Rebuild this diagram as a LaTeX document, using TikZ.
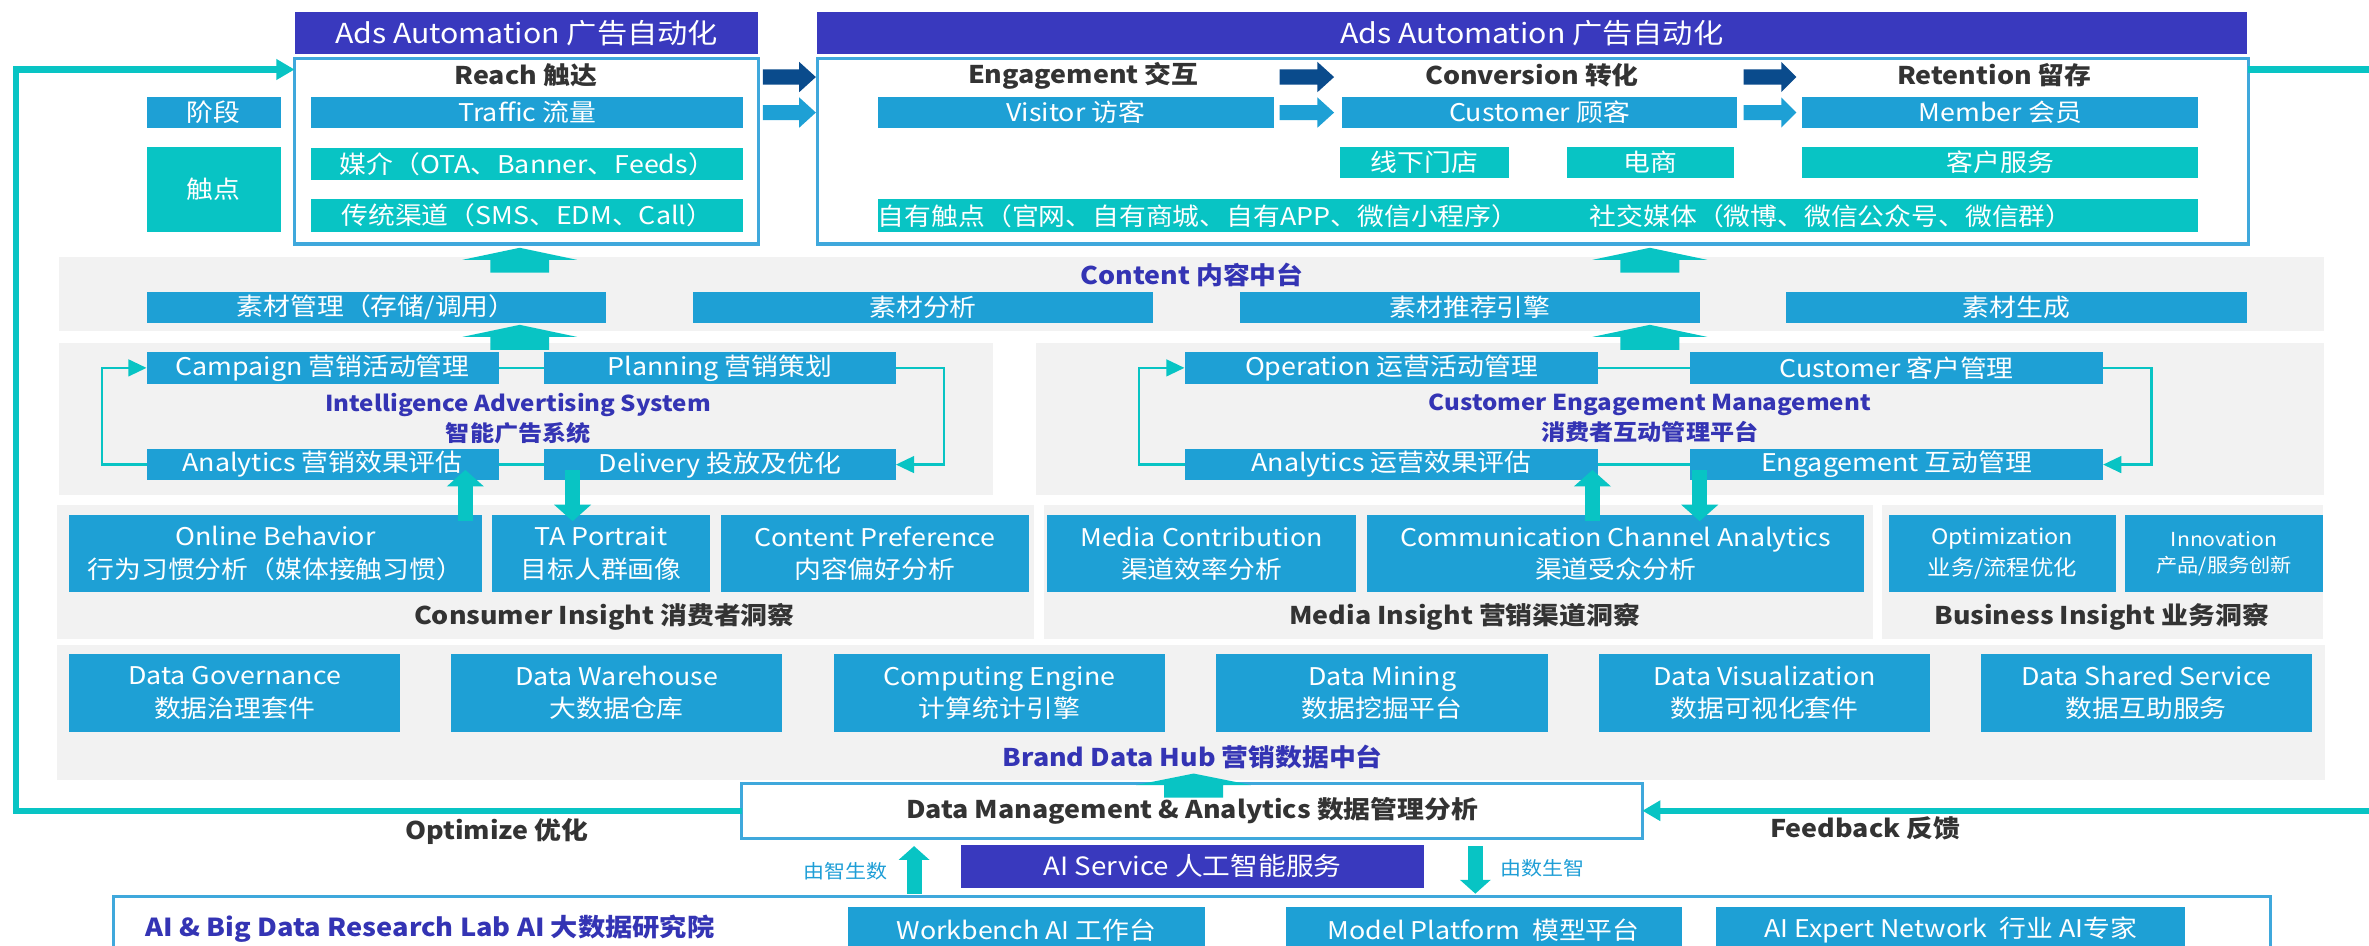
\documentclass[tikz,border=0pt]{standalone}
\usepackage{fontspec}
\setmainfont{Noto Sans CJK SC}[FakeStretch=1.1]
\usetikzlibrary{arrows.meta}
\definecolor{cblue}{HTML}{1EA0D5}
\definecolor{cteal}{HTML}{08C4C4}
\definecolor{cindigo}{HTML}{3939BE}
\definecolor{cdark}{HTML}{0A4B8C}
\definecolor{cgray}{HTML}{F2F2F2}
\definecolor{cborder}{HTML}{3FA8DC}
\definecolor{ctext}{HTML}{333333}
\definecolor{cititle}{HTML}{3434B4}
\definecolor{clabel}{HTML}{1E9ED6}
\newcommand\myfstd{\fontsize{8.07}{10.8}\selectfont}
\newcommand\myfads{\fontsize{9.1}{10}\selectfont}
\newcommand\myftitle{\fontsize{8.07}{9}\selectfont\bfseries}
\newcommand\myfias{\fontsize{7.25}{10}\selectfont\bfseries}
\newcommand\myflab{\fontsize{8.2}{9}\selectfont\bfseries}
\newcommand\myfsmall{\fontsize{6.32}{7}\selectfont}
\newcommand\myfinno{\fontsize{6.38}{8.5}\selectfont}
\newcommand\myfopt{\fontsize{7.03}{10}\selectfont}
\newcommand\myfai{\fontsize{8.34}{9}\selectfont}
\newcommand\bxn[7]{%
  \pgfmathsetmacro\bxw{(#4-#2)*0.5}%
  \pgfmathsetmacro\bxh{(#5-#3)*0.5}%
  \node[#6, minimum width=\bxw pt, minimum height=\bxh pt] (#1) at ({(#2+#4)/2},{(#3+#5)/2}) {#7};}
\newcommand\fatup[4]{% cx tip base bottom
  \fill[cteal] ({#1-19.5},#4) -- ({#1-19.5},#3) -- ({#1-38},#3) -- (#1,#2) -- ({#1+38},#3) -- ({#1+19.5},#3) -- ({#1+19.5},#4) -- cycle;}
\newcommand\chev[5]{% color x0 xh x1 cy
  \fill[#1] (#2,{#5-5}) -- (#3,{#5-5}) -- (#3,{#5-10}) -- (#4,#5) -- (#3,{#5+10}) -- (#3,{#5+5}) -- (#2,{#5+5}) -- cycle;}
\tikzset{
  base/.style={inner sep=0pt, outer sep=0pt, align=center},
  bb/.style={base, fill=cblue, text=white, font=\myfstd},
  tb/.style={base, fill=cteal, text=white, font=\myfstd},
  ib/.style={base, fill=cindigo, text=white},
  gb/.style={base, fill=cgray},
  wb/.style={base, fill=white, draw=cborder, line width=1pt},
  ttl/.style={inner sep=0pt, text=ctext, font=\myftitle},
  itl/.style={inner sep=0pt, text=cititle, font=\myftitle, align=center},
  txt/.style={inner sep=0pt, text=white, font=\myfstd},
  loopl/.style={draw=cteal, line width=0.8pt},
  loopa/.style={loopl, -{Triangle[length=6pt,width=5.5pt]}},
  tarr/.style={draw=cteal, line width=5pt, -{Triangle[length=5.5pt,width=12pt]}},
  sarr/.style={draw=cteal, line width=5pt, -{Triangle[length=4.6pt,width=10pt]}},
  fbl/.style={draw=cteal, line width=2pt},
  fba/.style={fbl, -{Triangle[length=6pt,width=6.5pt]}},
}
\begin{document}
\begin{tikzpicture}[x=0.5pt,y=-0.5pt]
\useasboundingbox (0,0) rectangle (1568,626);
% top headers
\bxn{adsL}{195}{8}{502}{36}{ib,font=\myfads}{Ads Automation 广告自动化}
\bxn{adsR}{541}{8}{1487}{36}{ib,font=\myfads}{Ads Automation 广告自动化}
% stage frames
\bxn{reach}{195}{39}{502}{161.5}{wb}{}
\bxn{main}{541}{39}{1488}{161.5}{wb}{}
\node[ttl] (tReach) at (348,50) {Reach 触达};
\node[ttl] (tEng) at (717,50) {Engagement 交互};
\node[ttl] (tConv) at (1014,50) {Conversion 转化};
\node[ttl] (tRet) at (1320,50) {Retention 留存};
\bxn{stage}{97}{64}{186}{85}{bb}{阶段}
\bxn{touch}{97}{97}{186}{153.5}{tb}{触点}
\bxn{traffic}{206}{64}{492}{85}{bb}{Traffic 流量}
\bxn{media}{206}{98}{492}{119}{tb}{媒介（OTA、Banner、Feeds）}
\bxn{trad}{206}{132}{492}{153.5}{tb}{传统渠道（SMS、EDM、Call）}
\bxn{visitor}{581}{64}{843}{85}{bb}{Visitor 访客}
\bxn{customer}{888}{64}{1150}{85}{bb}{Customer 顾客}
\bxn{member}{1193}{64}{1455}{85}{bb}{Member 会员}
\bxn{store}{887}{97}{998.5}{118}{tb}{线下门店}
\bxn{ecom}{1037}{97}{1148}{118}{tb}{电商}
\bxn{service}{1193}{97}{1455}{118}{tb}{客户服务}
\bxn{own}{581}{132}{1455}{153.5}{tb}{}
\node[txt] (ownA) at (793,143) {自有触点（官网、自有商城、自有APP、微信小程序）};
\node[txt] (ownB) at (1212,143) {社交媒体（微博、微信公众号、微信群）};
% chevrons
\chev{cdark}{505}{529}{540}{51}
\chev{cblue}{505}{529}{540}{74.5}
\chev{cdark}{847}{872}{883}{51}
\chev{cblue}{847}{872}{883}{74.5}
\chev{cdark}{1154}{1179}{1189}{51}
\chev{cblue}{1154}{1179}{1189}{74.5}
% content layer
\bxn{content}{39}{170}{1538}{219}{gb}{}
\node[itl] (tContent) at (789,182) {Content 内容中台};
\bxn{cm1}{97}{193}{401}{214}{bb}{素材管理（存储/调用）}
\bxn{cm2}{459}{193}{763}{214}{bb}{素材分析}
\bxn{cm3}{821}{193}{1125}{214}{bb}{素材推荐引擎}
\bxn{cm4}{1182}{193}{1487}{214}{bb}{素材生成}
% IAS
\bxn{ias}{39}{227}{657}{327.6}{gb}{}
\bxn{camp}{97}{233}{330}{254}{bb}{Campaign 营销活动管理}
\bxn{plan}{360}{233}{593}{254}{bb}{Planning 营销策划}
\bxn{anaA}{97}{297}{330}{318}{bb}{Analytics 营销效果评估}
\bxn{deliv}{360}{297}{593}{318}{bb}{Delivery 投放及优化}
\node[itl, font=\myfias] (tIAS) at (343,277) {Intelligence Advertising System\\智能广告系统};
% CEM
\bxn{cem}{686}{227}{1538}{327.6}{gb}{}
\bxn{oper}{784}{233}{1058}{254}{bb}{Operation 运营活动管理}
\bxn{cust}{1118.6}{233}{1392}{254}{bb}{Customer 客户管理}
\bxn{anaC}{784}{297}{1058}{318}{bb}{Analytics 运营效果评估}
\bxn{engm}{1118.6}{297}{1392}{318}{bb}{Engagement 互动管理}
\node[itl, font=\myfias] (tCEM) at (1092,277) {Customer Engagement Management\\消费者互动管理平台};
% loops
\draw[loopl] (camp.east) -- (plan.west);
\draw[loopa] (plan.east) -- ++(32,0) |- (deliv.east);
\draw[loopl] (anaA.east) -- (deliv.west);
\draw[loopa] (anaA.west) -- ++(-29.5,0) |- (camp.west);
\draw[loopl] (oper.east) -- (cust.west);
\draw[loopa] (cust.east) -- ++(32,0) |- (engm.east);
\draw[loopl] (anaC.east) -- (engm.west);
\draw[loopa] (anaC.west) -- ++(-30,0) |- (oper.west);
% fat arrows
\fatup{344}{164}{172}{180.5}
\fatup{344}{215}{223}{231.5}
\fatup{1092}{164}{172}{180.5}
\fatup{1092}{215}{223}{231.5}
% insight layer
\bxn{pCon}{38}{334}{684.6}{423}{gb}{}
\bxn{pMed}{691}{334}{1239.5}{423}{gb}{}
\bxn{pBus}{1245.7}{334}{1537.7}{423}{gb}{}
\bxn{ob}{45.6}{341}{319}{392}{bb}{Online Behavior\\行为习惯分析（媒体接触习惯）}
\bxn{ta}{325.6}{341}{470}{392}{bb}{TA Portrait\\目标人群画像}
\bxn{cp}{477}{341}{681}{392}{bb}{Content Preference\\内容偏好分析}
\bxn{mc}{693}{341}{897.5}{392}{bb}{Media Contribution\\渠道效率分析}
\bxn{cca}{904.7}{341}{1234}{392}{bb}{Communication Channel Analytics\\渠道受众分析}
\bxn{opt}{1250}{341}{1400.6}{392}{bb,font=\myfopt}{Optimization\\业务/流程优化}
\bxn{inno}{1406.6}{341}{1537.7}{392}{bb,font=\myfinno}{Innovation\\产品/服务创新}
\node[ttl] (tCon) at (400,408) {Consumer Insight 消费者洞察};
\node[ttl] (tMed) at (969.5,408) {Media Insight 营销渠道洞察};
\node[ttl] (tBus) at (1391,408) {Business Insight 业务洞察};
% thick arrows insight <-> systems
\coordinate (ua1) at (308,345); \coordinate (ua2) at (308,311);
\coordinate (da1) at (379,311); \coordinate (da2) at (379,345);
\coordinate (ub1) at (1054,345); \coordinate (ub2) at (1054,311);
\coordinate (db1) at (1125,311); \coordinate (db2) at (1125,345);
\draw[tarr] (ua1) -- (ua2);
\draw[tarr] (da1) -- (da2);
\draw[tarr] (ub1) -- (ub2);
\draw[tarr] (db1) -- (db2);
% data hub
\bxn{hub}{38}{427}{1539}{516}{gb}{}
\bxn{dg}{45.6}{433}{265}{484.3}{bb}{Data Governance\\数据治理套件}
\bxn{dw}{298.7}{433}{517.6}{484.3}{bb}{Data Warehouse\\大数据仓库}
\bxn{ce}{552}{433}{771}{484.3}{bb}{Computing Engine\\计算统计引擎}
\bxn{dmn}{805}{433}{1024.6}{484.3}{bb}{Data Mining\\数据挖掘平台}
\bxn{dv}{1058.5}{433}{1277.5}{484.3}{bb}{Data Visualization\\数据可视化套件}
\bxn{ds}{1311}{433}{1530}{484.3}{bb}{Data Shared Service\\数据互助服务}
\node[itl] (tHub) at (789.5,501) {Brand Data Hub 营销数据中台};
% data management
\bxn{dm}{491}{518.5}{1087}{555}{wb,text=ctext,font=\myftitle}{Data Management \& Analytics 数据管理分析}
\fatup{790}{512}{519.6}{528}
% feedback loop
\coordinate (fbL) at (10.5,46);
\coordinate (fbRt) at (1568,46);
\coordinate (fbRb) at (1568,536.6);
\draw[fba, line join=miter] (dm.west) -- (dm.west -| fbL) -- (fbL) -- (fbL -| reach.west);
\draw[fbl] (fbRt -| main.east) -- (fbRt);
\draw[fba] (fbRb) -- (fbRb -| dm.east);
\node[ttl] (tOpt) at (329,550.5) {Optimize 优化};
\node[ttl] (tFb) at (1234.6,548) {Feedback 反馈};
% AI
\bxn{ais}{636}{559.3}{942.6}{587.5}{ib,font=\myfai}{AI Service 人工智能服务}
\bxn{lab}{75}{593.5}{1503}{640}{wb}{}
\node[inner sep=0pt, anchor=west, text=cititle, font=\myflab] (tLab) at (96,614.5) {AI \& Big Data Research Lab AI 大数据研究院};
\bxn{wbench}{561}{600}{797.5}{631}{bb}{Workbench AI 工作台}
\bxn{model}{851}{600}{1113}{631}{bb}{Model Platform\ \ 模型平台}
\bxn{expert}{1136}{600}{1446}{631}{bb}{AI Expert Network\ \ 行业 AI专家}
\coordinate (ai1) at (605,591.5); \coordinate (ai2) at (605,560);
\coordinate (ai3) at (976.5,560); \coordinate (ai4) at (976.5,591.5);
\draw[sarr] (ai1) -- (ai2);
\draw[sarr] (ai3) -- (ai4);
\node[inner sep=0pt, anchor=east, text=clabel, font=\myfsmall] (lZS) at (588,576.6) {由智生数};
\node[inner sep=0pt, anchor=west, text=clabel, font=\myfsmall] (lSZ) at (993,574.6) {由数生智};
\end{tikzpicture}
\end{document}
